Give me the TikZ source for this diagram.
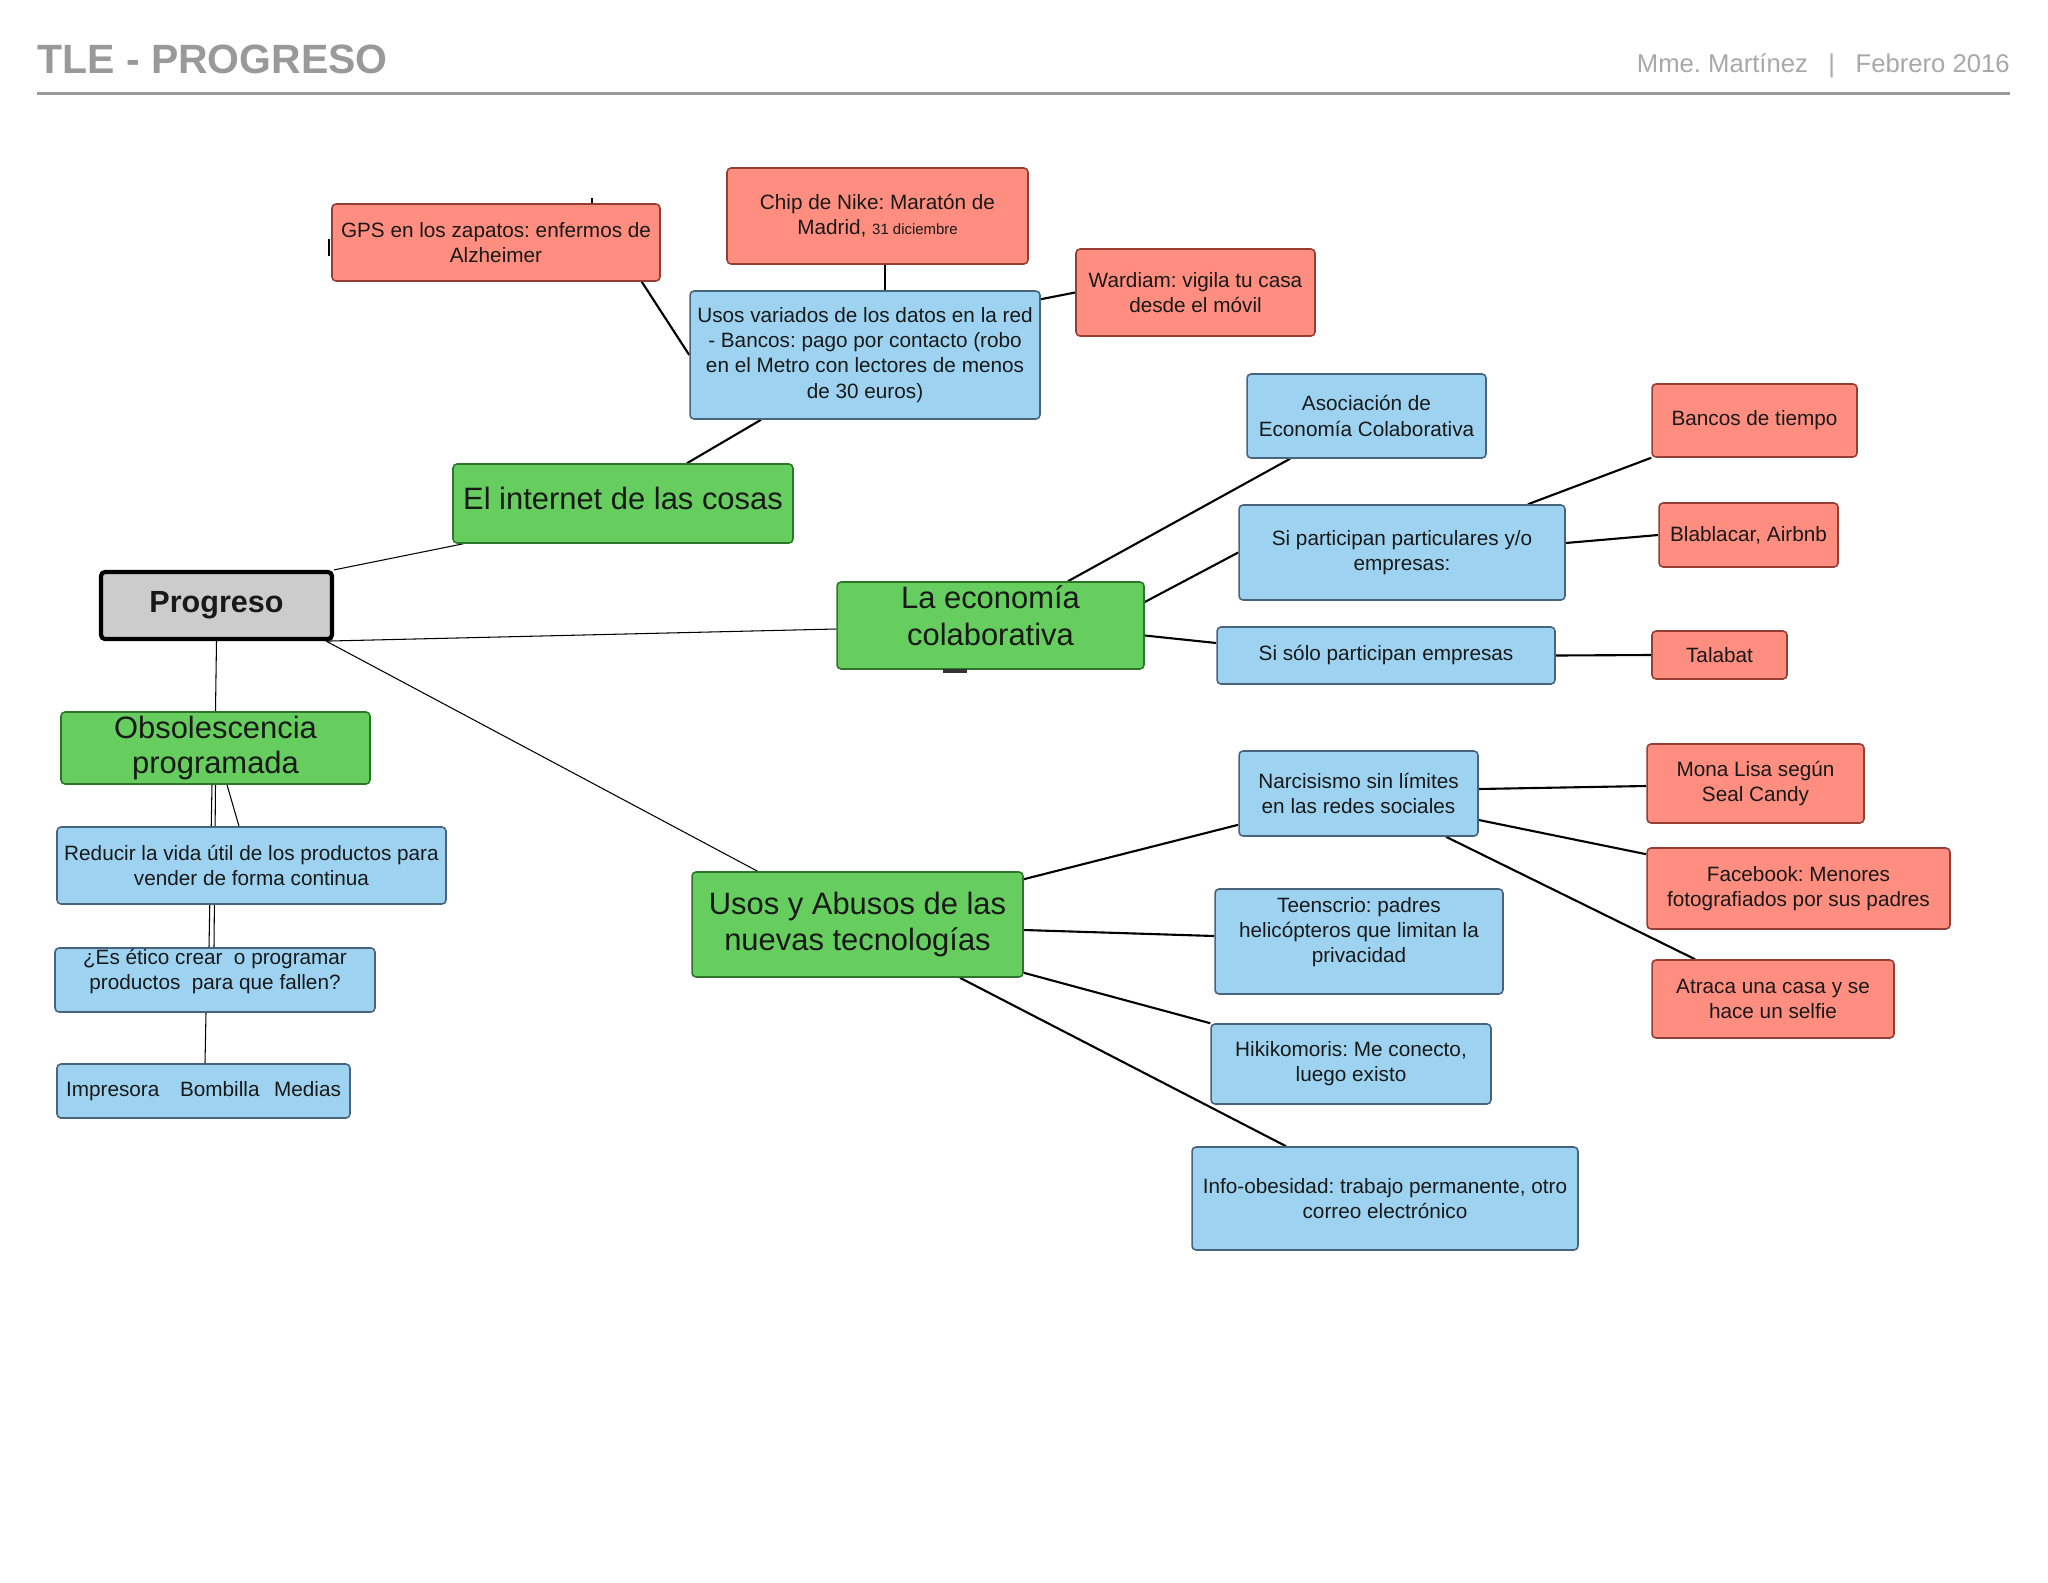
\documentclass[tikz,border=0pt]{standalone}
\usepackage{fontspec}
\setmainfont{Liberation Sans}
\usetikzlibrary{backgrounds}
\frenchspacing

\definecolor{redfill}{RGB}{255,142,128}
\definecolor{redline}{RGB}{150,62,52}
\definecolor{bluefill}{RGB}{157,211,240}
\definecolor{blueline}{RGB}{72,100,124}
\definecolor{greenfill}{RGB}{102,206,94}
\definecolor{greenline}{RGB}{44,118,44}
\definecolor{rootfill}{RGB}{204,204,204}
\definecolor{headgray}{RGB}{153,153,153}
\definecolor{authorgray}{RGB}{168,168,168}

% baja el borde inferior del texto para subirlo dentro de la caja
\newcommand{\liftby}[1]{\rule[-#1]{0pt}{0.1pt}}

\begin{document}
\begin{tikzpicture}[x=0.02cm, y=-0.02cm,
    box/.style={draw, rounded corners=0.08cm, align=center, inner sep=0.05cm, line width=0.9pt,
      text=black!90, font=\fontsize{11.8}{14.3}\selectfont},
    redbox/.style={box, fill=redfill, draw=redline},
    bluebox/.style={box, fill=bluefill, draw=blueline},
    greenbox/.style={box, fill=greenfill, draw=greenline, inner ysep=0pt, font=\fontsize{17.6}{20.8}\selectfont},
    rootbox/.style={box, fill=rootfill, draw=black, line width=2.4pt, font=\fontsize{17.4}{20}\selectfont\bfseries},
    link/.style={line width=1.2pt},
    thinlink/.style={line width=0.6pt}]
    % Cabecera
    \node[anchor=base west, inner sep=0, text=headgray, font=\fontsize{23.3}{26}\selectfont\bfseries]
      (titulo) at (37,73) {TLE - PROGRESO};
    \node[anchor=base east, inner sep=0, text=authorgray, font=\fontsize{14.6}{17}\selectfont]
      (autor) at (2010,72) {Mme. Martínez\hspace{0.8em}|\hspace{0.8em}Febrero 2016};
    \coordinate (regla) at (0,93);
    \draw[headgray, line width=0.06cm] (titulo.west |- regla) -- (autor.east |- regla);
    % Tema central
    \node[rootbox, minimum width=4.62cm, minimum height=1.34cm] (prog) at (216.5,605.5) {Progreso};
    % Ramas
    \node[greenbox, minimum width=6.8cm, minimum height=1.58cm] (inet) at (623,503.5) {El internet de las cosas\liftby{0.2cm}};
    \node[greenbox, minimum width=6.14cm, minimum height=1.74cm] (econ) at (990.5,625.5) {La economía\\colaborativa\liftby{0.4cm}};
    \node[greenbox, minimum width=6.18cm, minimum height=1.44cm, font=\fontsize{17.6}{19.5}\selectfont] (obs) at (215.5,748)
      {Obsolescencia\\programada};
    \node[greenbox, minimum width=6.62cm, minimum height=2.1cm] (abusos) at (857.5,924.5) {Usos y Abusos de las\\nuevas tecnologías};
    % El internet de las cosas
    \node[bluebox, minimum width=7cm, minimum height=2.56cm] (usosred) at (865,355)
      {Usos variados de los datos en la red\\- Bancos: pago por contacto (robo\\en el Metro con lectores de menos\\de 30 euros)};
    \node[redbox, minimum width=6.56cm, minimum height=1.54cm] (gps) at (496,242.5) {GPS en los zapatos: enfermos de\\Alzheimer};
    \node[redbox, minimum width=6.02cm, minimum height=1.92cm] (nike) at (877.5,216)
      {Chip de Nike: Maratón de\\Madrid, {\fontsize{8.5}{10}\selectfont 31 diciembre}};
    \node[redbox, minimum width=4.78cm, minimum height=1.74cm] (wardiam) at (1195.5,292.5) {Wardiam: vigila tu casa\\desde el móvil};
    % La economia colaborativa
    \node[bluebox, minimum width=4.78cm, minimum height=1.68cm] (asoc) at (1366.5,416) {Asociación de\\Economía Colaborativa};
    \node[bluebox, minimum width=6.52cm, minimum height=1.9cm] (particulares) at (1402,552.5) {Si participan particulares y/o\\empresas:};
    \node[bluebox, minimum width=6.76cm, minimum height=1.14cm] (empresas) at (1386,655.5) {Si sólo participan empresas};
    \node[redbox, minimum width=4.1cm, minimum height=1.46cm] (bancos) at (1754.5,420.5) {Bancos de tiempo};
    \node[redbox, minimum width=3.58cm, minimum height=1.28cm] (blabla) at (1748.5,535) {Blablacar, Airbnb};
    \node[redbox, minimum width=2.7cm, minimum height=0.96cm] (talabat) at (1719.5,655) {Talabat};
    % Obsolescencia programada
    \node[bluebox, minimum width=7.78cm, minimum height=1.54cm] (reducir) at (251.5,865.5)
      {Reducir la vida útil de los productos para\\vender de forma continua};
    \node[bluebox, inner ysep=0pt, minimum width=6.4cm, minimum height=1.28cm] (etico) at (215,980)
      {¿Es ético crear\ \ o programar\\productos\ \ para que fallen?\liftby{0.41cm}};
    \node[bluebox, minimum width=5.86cm, minimum height=1.08cm] (ejemplos) at (203.5,1091)
      {Impresora\hspace{1em}Bombilla\hspace{0.7em}Medias};
    % Usos y abusos
    \node[bluebox, minimum width=4.78cm, minimum height=1.7cm] (narciso) at (1358.5,793.5) {Narcisismo sin límites\\en las redes sociales};
    \node[bluebox, minimum width=5.76cm, minimum height=2.1cm] (teen) at (1359,941.5)
      {Teenscrio: padres\\helicópteros que limitan la\\privacidad\liftby{0.45cm}};
    \node[bluebox, minimum width=5.6cm, minimum height=1.6cm] (hiki) at (1351,1064) {Hikikomoris: Me conecto,\\luego existo};
    \node[bluebox, minimum width=7.72cm, minimum height=2.06cm] (info) at (1385,1198.5)
      {Info-obesidad: trabajo permanente, otro\\correo electrónico};
    \node[redbox, minimum width=4.34cm, minimum height=1.58cm] (mona) at (1755.5,783.5) {Mona Lisa según\\Seal Candy};
    \node[redbox, minimum width=6.06cm, minimum height=1.62cm] (facebook) at (1798.5,888.5) {Facebook: Menores\\fotografiados por sus padres};
    \node[redbox, minimum width=4.84cm, minimum height=1.56cm] (atraca) at (1773,999) {Atraca una casa y se\\hace un selfie};
    % restos de conectores
    \draw[black!80, line width=0.08cm] ([xshift=-0.95cm, yshift=-0.03cm]econ.south) -- ++(0.48cm,0);
    \begin{scope}[on background layer]
      \fill[white] (0,0) rectangle (2048,1582);
      % Progreso
      \draw[thinlink] (prog.north east) -- ([xshift=0.22cm]inet.south west);
      \draw[thinlink] ([xshift=-0.16cm]prog.south east) -- ([yshift=-0.07cm]econ.west);
      \draw[thinlink] ([xshift=-0.16cm]prog.south east) -- ([xshift=-2cm]abusos.north);
      \draw[thinlink] (prog.south) -- (obs.north);
      % Internet
      \draw[link] ([xshift=1.28cm]inet.north) -- ([xshift=-2.08cm]usosred.south);
      \draw[link] ([xshift=-0.38cm]gps.south east) -- (usosred.west);
      \draw[link] ([xshift=0.15cm]nike.south) -- ([xshift=0.15cm]nike.south |- usosred.north);
      \draw[link] ([yshift=-0.18cm]usosred.north east) -- (wardiam.west);
      \draw[link] ([xshift=-0.04cm, yshift=0.07cm]gps.west) -- ++(0,-0.34cm);
      \draw[link] ([xshift=1.92cm, yshift=0.1cm]gps.north) -- ++(0,-0.2cm);
      % Economia
      \draw[link] ([xshift=1.55cm]econ.north) -- ([xshift=-1.53cm]asoc.south);
      \draw[link] ([yshift=0.47cm]econ.east) -- (particulares.west);
      \draw[link] ([yshift=-0.2cm]econ.east) -- ([yshift=0.25cm]empresas.west);
      \draw[link] ([xshift=2.52cm]particulares.north) -- (bancos.south west);
      \draw[link] ([yshift=0.19cm]particulares.east) -- (blabla.west);
      \draw[link] (empresas.east) -- (talabat.west);
      % Obsolescencia
      \draw[thinlink] ([xshift=-0.07cm]obs.south) -- ([xshift=-0.12cm]etico.north);
      \draw[thinlink] (obs.south) -- ([xshift=-0.02cm]etico.north);
      \draw[thinlink] ([xshift=0.23cm]obs.south) -- ([xshift=-0.25cm]reducir.north);
      \draw[thinlink] ([xshift=-0.18cm]etico.south) -- ([xshift=0.03cm]ejemplos.north);
      % Usos y abusos
      \draw[link] ([yshift=-0.16cm]abusos.north east) -- ([yshift=0.24cm]narciso.south west);
      \draw[link] ([yshift=-0.11cm]abusos.east) -- ([yshift=0.11cm]teen.west);
      \draw[link] ([yshift=0.1cm]abusos.south east) -- (hiki.north west);
      \draw[link] ([xshift=2.05cm]abusos.south) -- ([xshift=-1.98cm]info.north);
      \draw[link] ([yshift=0.09cm]narciso.east) -- ([yshift=-0.05cm]mona.west);
      \draw[link] ([yshift=-0.53cm]narciso.east) -- ([yshift=-0.14cm]facebook.north west);
      \draw[link] ([xshift=1.75cm]narciso.south) -- ([xshift=-1.56cm]atraca.north);
    \end{scope}
  \end{tikzpicture}
\end{document}
